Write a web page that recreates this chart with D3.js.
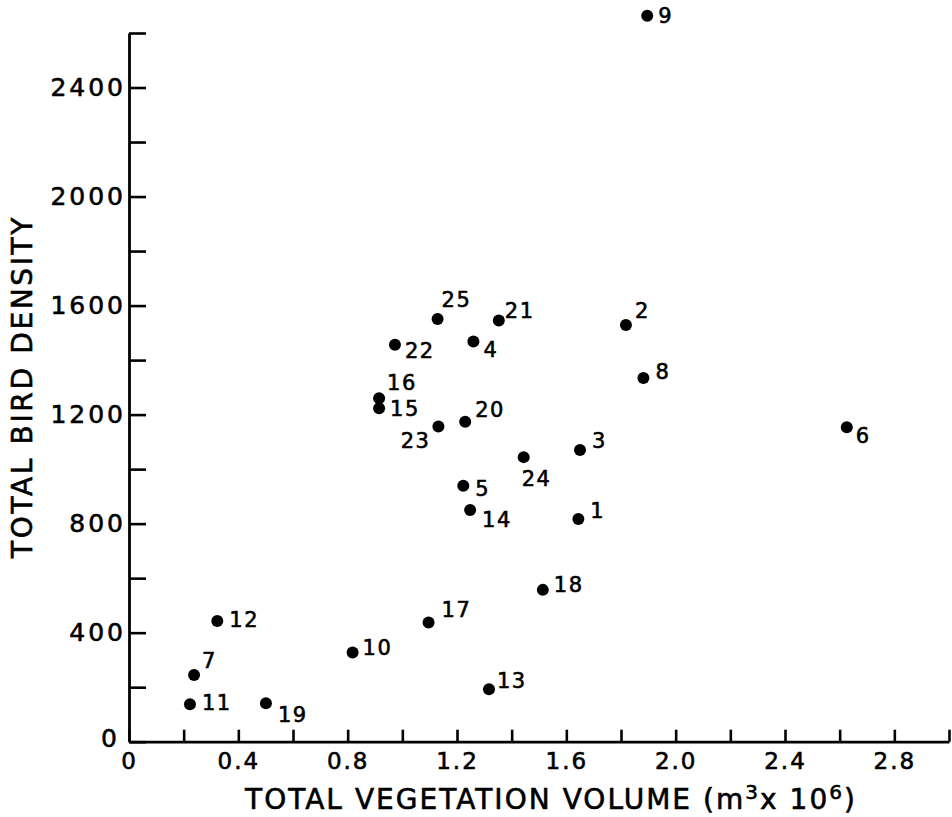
<!DOCTYPE html>
<html>
<head>
<meta charset="utf-8">
<script src="https://cdn.jsdelivr.net/npm/d3@7/dist/d3.min.js"></script>
<style>
  html, body { margin: 0; padding: 0; background: #fff; }
  svg { display: block; font-family: "DejaVu Sans", sans-serif; }
  svg text { stroke: #000; stroke-width: 0.6px; }
</style>
</head>
<body>
<svg id="chart" width="952" height="817"></svg>
<script>
// ---- data ----
const siteIds      = [1, 2, 3, 4, 5, 6, 7, 8, 9, 10, 11, 12, 13, 14, 15, 16, 17, 18, 19, 20, 21, 22, 23, 24, 25];
const vegVolume    = [1.644, 1.818, 1.650, 1.260, 1.223, 2.626, 0.238, 1.882, 1.896, 0.818, 0.223, 0.323, 1.317, 1.248, 0.915, 0.915, 1.096, 1.514, 0.501, 1.230, 1.353, 0.973, 1.132, 1.444, 1.129];
const birdDensity  = [817, 1529, 1070, 1468, 939, 1154, 245, 1334, 2663, 327, 137, 443, 192, 850, 1223, 1260, 437, 557, 141, 1174, 1545, 1456, 1156, 1044, 1551];
const xTickValues  = [0, 0.2, 0.4, 0.6, 0.8, 1.0, 1.2, 1.4, 1.6, 1.8, 2.0, 2.2, 2.4, 2.6, 2.8, 3.0];
const xTickLabels  = {"0": "0", "0.4": "0.4", "0.8": "0.8", "1.2": "1.2", "1.6": "1.6", "2": "2.0", "2.4": "2.4", "2.8": "2.8"};
const yTickValues  = [0, 200, 400, 600, 800, 1000, 1200, 1400, 1600, 1800, 2000, 2200, 2400, 2600];
const yTickLabels  = {"0": "0", "400": "400", "800": "800", "1200": "1200", "1600": "1600", "2000": "2000", "2400": "2400"};
const xTitle = "TOTAL VEGETATION VOLUME";
const yTitle = "TOTAL BIRD DENSITY";

// ---- label placement (layout only): [dx, dy, anchor] relative to the dot ----
const labelPlacement = {
  1: [12, -1], 2: [9, -7], 3: [12, -2], 4: [10, 15], 5: [12, 10], 6: [9, 16],
  7: [8, -7], 8: [12, 1], 9: [11, 7], 10: [10, 2], 11: [12, 6], 12: [12, 6],
  13: [8, -1], 14: [12, 17], 15: [11, 8], 16: [8, -8], 17: [13, -6], 18: [11, 2],
  19: [12, 19], 20: [10, -5], 21: [6, -3], 22: [10, 13], 23: [-8, 21, "end"],
  24: [-2, 29], 25: [4, -12]
};

const svg = d3.select("#chart");
const x = d3.scaleLinear().domain([0, 3.0]).range([129, 949]);
const y = d3.scaleLinear().domain([0, 2600]).range([741.7, 33]);

// x axis
const xAxis = d3.axisBottom(x)
  .tickValues(xTickValues)
  .tickSizeInner(-12).tickSizeOuter(0).tickPadding(11)
  .tickFormat(d => xTickLabels[String(+d.toFixed(1))] || "");
const gx = svg.append("g").attr("transform", `translate(0,${y(0)})`).call(xAxis);
gx.select(".domain").attr("stroke", "#000").attr("stroke-width", 2.8);
gx.selectAll(".tick line").attr("stroke", "#000").attr("stroke-width", 2.6);
gx.selectAll(".tick text").attr("font-size", 23).attr("letter-spacing", 2)
  .attr("fill", "#000").attr("font-family", "DejaVu Sans");

// y axis
const yAxis = d3.axisLeft(y)
  .tickValues(yTickValues)
  .tickSizeInner(-17).tickSizeOuter(0).tickPadding(3)
  .tickFormat(d => yTickLabels[String(d)] || "");
const gy = svg.append("g").attr("transform", `translate(${x(0)},0)`).call(yAxis);
gy.select(".domain").attr("stroke", "#000").attr("stroke-width", 2.8);
gy.selectAll(".tick line").attr("stroke", "#000").attr("stroke-width", 2.6);
gy.selectAll(".tick text").attr("font-size", 25).attr("letter-spacing", 3)
  .attr("fill", "#000").attr("font-family", "DejaVu Sans");
gy.selectAll(".tick").filter(d => d === 0).select("text").attr("dy", "0.2em").attr("x", -9);

// points
const pts = siteIds.map((id, i) => ({id, vx: vegVolume[i], vy: birdDensity[i]}));
svg.append("g").selectAll("circle").data(pts).join("circle")
  .attr("cx", d => x(d.vx)).attr("cy", d => y(d.vy)).attr("r", 6).attr("fill", "#000");

svg.append("g").selectAll("text").data(pts).join("text")
  .attr("x", d => x(d.vx) + labelPlacement[d.id][0])
  .attr("y", d => y(d.vy) + labelPlacement[d.id][1])
  .attr("text-anchor", d => labelPlacement[d.id][2] || "start")
  .attr("font-size", 21).attr("letter-spacing", 1.5).attr("fill", "#000")
  .text(d => d.id);

// fit letter-spacing so a text spans a target width
function fitWidth(sel, target, nChars) {
  sel.attr("letter-spacing", 0);
  const w = sel.node().getBBox().width;
  sel.attr("letter-spacing", (target - w) / nChars);
}

// x title
const xt = svg.append("text").attr("x", 245).attr("y", 809)
  .attr("font-size", 28).attr("fill", "#000");
xt.append("tspan").text(xTitle + "  (m");
xt.append("tspan").attr("font-size", 20).attr("dy", -10).text("3");
xt.append("tspan").attr("dy", 10).text("x 10");
xt.append("tspan").attr("font-size", 20).attr("dy", -10).text("6");
xt.append("tspan").attr("dy", 10).text(")");
fitWidth(xt, 613, xTitle.length + 10);

// y title
const yt = svg.append("text")
  .attr("transform", "translate(32,558) rotate(-90)")
  .attr("font-size", 28).attr("fill", "#000").text(yTitle);
fitWidth(yt, 345, yTitle.length);
</script>
</body>
</html>
